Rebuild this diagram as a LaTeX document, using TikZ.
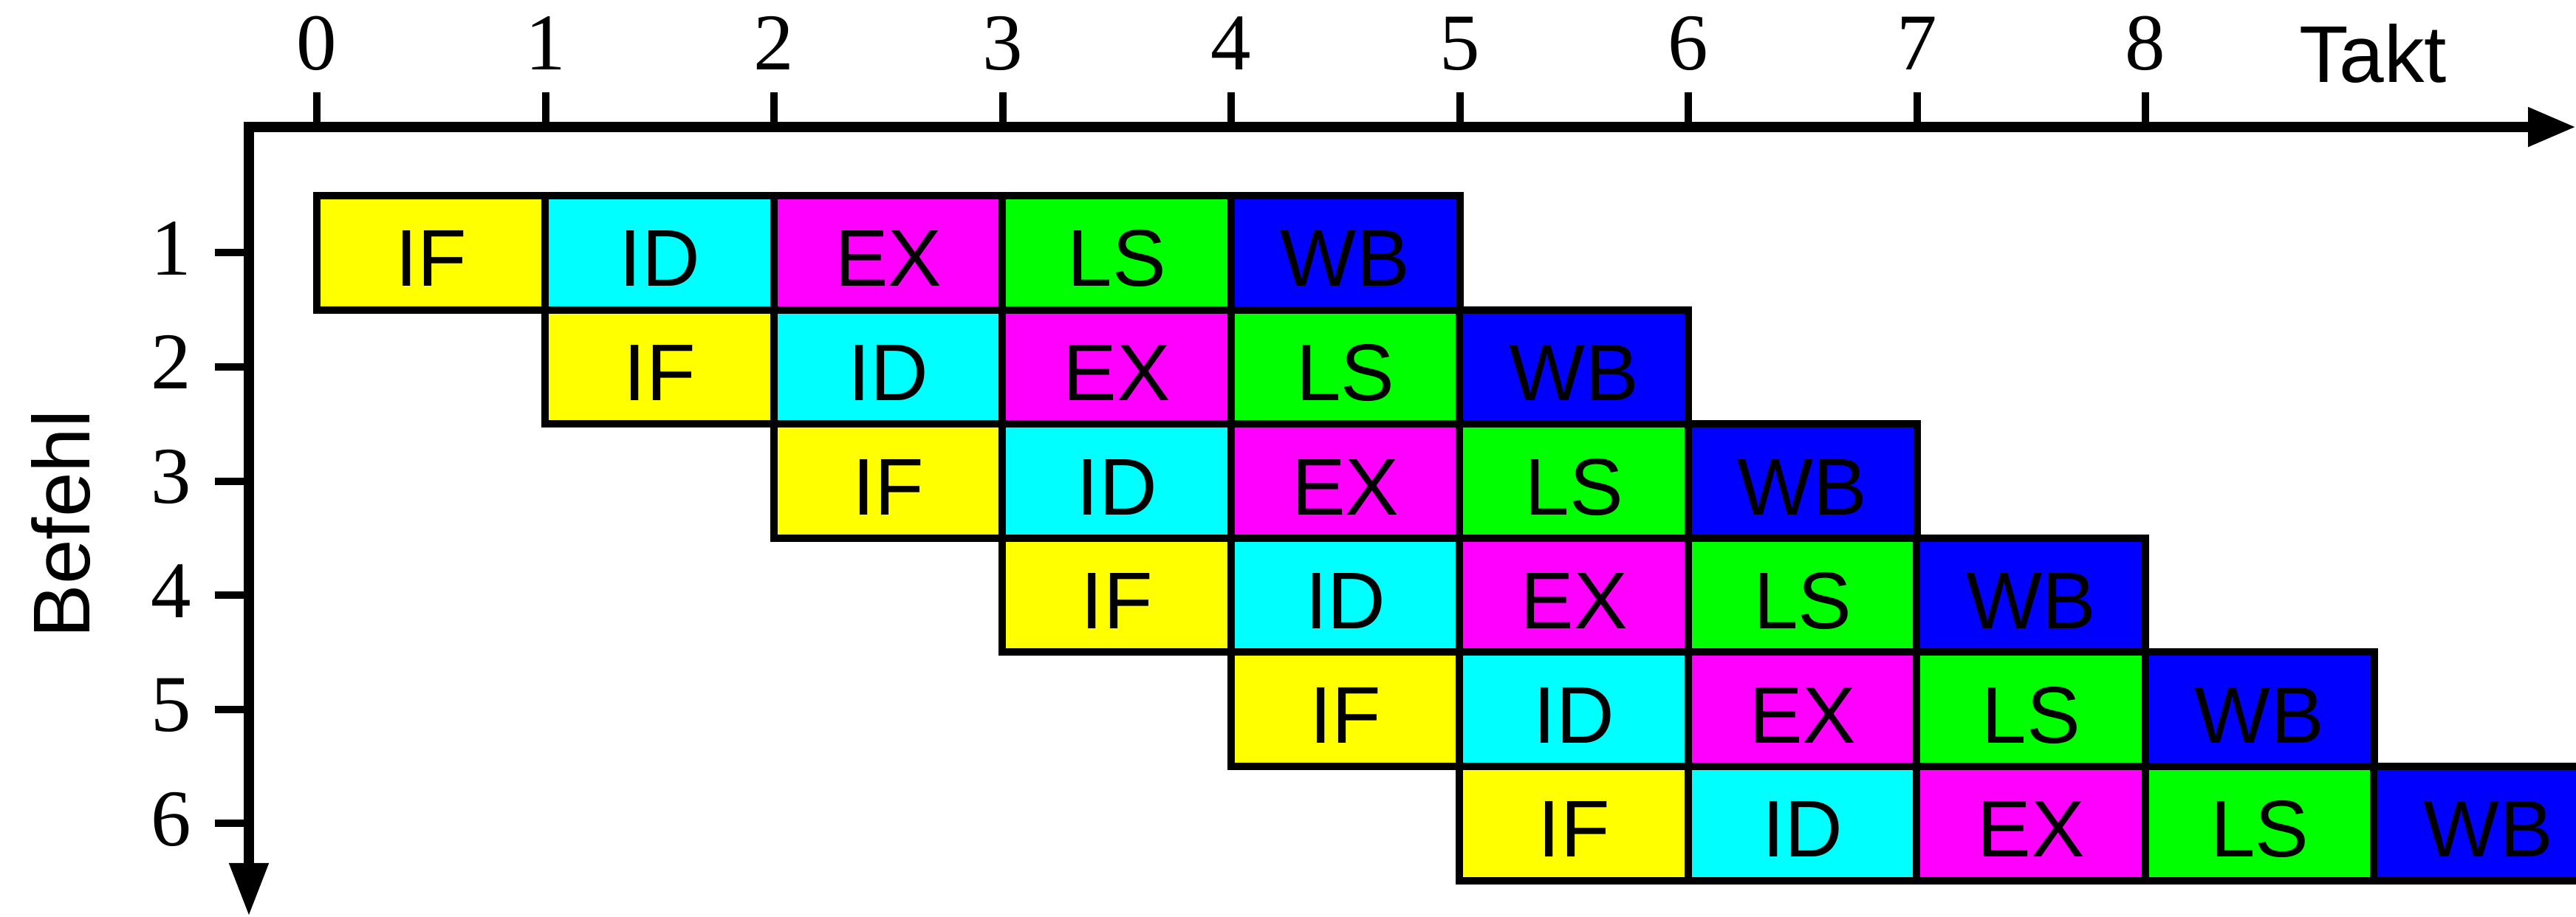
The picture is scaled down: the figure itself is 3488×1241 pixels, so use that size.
\documentclass[tikz,border=0pt]{standalone}
\usepackage{fontspec}
\setmainfont{Liberation Serif}
\newfontfamily\labelfont{Liberation Sans}
\usetikzlibrary{arrows.meta}
\definecolor{stageIF}{RGB}{255,255,0}
\definecolor{stageID}{RGB}{0,255,255}
\definecolor{stageEX}{RGB}{255,0,255}
\definecolor{stageLS}{RGB}{0,255,0}
\definecolor{stageWB}{RGB}{0,0,255}
\begin{document}
\begin{tikzpicture}[x=0.01cm,y=-0.01cm,
  stage/.style={draw=black, line width=0.1cm, inner sep=0pt,
    minimum width=3.095cm, minimum height=1.546cm,
    text height=0.91cm, text depth=0pt,
    font=\labelfont\fontsize{31}{31}\selectfont},
  axis/.style={line width=0.14cm, line join=miter,
    {Triangle[length=0.72cm,width=0.5cm]}-{Triangle[length=0.65cm,width=0.5cm]}},
  tickmark/.style={line width=0.1cm},
  num/.style={font=\fontsize{31}{31}\selectfont, inner sep=0pt, anchor=base},
  title/.style={font=\labelfont\fontsize{31}{31}\selectfont, inner sep=0pt, anchor=base}]

  % page frame
  \clip (0,0) rectangle (3488,1241);

  % pipeline stages: instruction i starts in clock cycle i-1
  \foreach \i in {1,...,6} {
    \pgfmathsetmacro\cy{342.3+154.6*(\i-1)}
    \foreach \s [count=\j from 0] in {IF,ID,EX,LS,WB} {
      \pgfmathsetmacro\cx{429+309.5*(\i-1+\j+0.5)}
      \node[stage, fill=stage\s] (b\i\s) at (\cx,\cy) {\s};
    }
  }

  % axes
  \coordinate (origin) at (337,172);
  \coordinate (xend) at (3488,172);
  \coordinate (yend) at (337,1241);
  \draw[axis] (yend) -- (origin) -- (xend);

  % clock cycle ticks
  \foreach \k in {0,...,8} {
    \pgfmathsetmacro\tx{429+309.5*\k}
    \coordinate (ct\k) at (\tx,125);
    \coordinate (cb\k) at (\tx,172);
    \draw[tickmark] (ct\k) -- (cb\k);
    \node[num] (t\k) at (\tx,94) {\k};
  }
  \node[title] (takt) at (3213,111) {Takt};

  % instruction ticks
  \foreach \i in {1,...,6} {
    \pgfmathsetmacro\ry{342.3+154.6*(\i-1)}
    \coordinate (rl\i) at (291,\ry);
    \coordinate (rr\i) at (337,\ry);
    \draw[tickmark] (rl\i) -- (rr\i);
    \node[num] (r\i) at (232,\ry+30) {\i};
  }
  \node[title, rotate=90] (befehl) at (121,710) {Befehl};
\end{tikzpicture}
\end{document}
